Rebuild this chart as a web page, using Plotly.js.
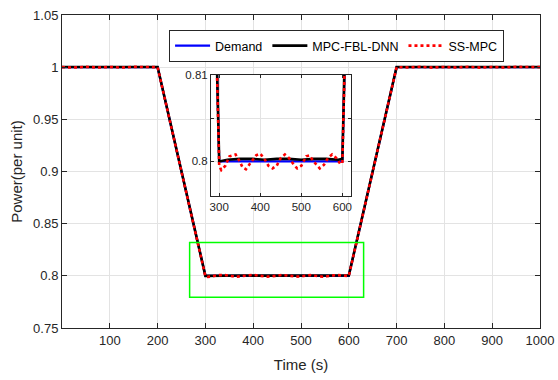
<!DOCTYPE html>
<html>
<head>
<meta charset="utf-8">
<script src="https://cdn.plot.ly/plotly-3.0.1.min.js"></script>
<style>
  html, body { margin: 0; padding: 0; background: #fff; }
  #chart { width: 558px; height: 380px; }
</style>
</head>
<body>
<div id="chart"></div>
<script>
// Power demand and tracking responses of the two controllers
const demandTime  = [0, 200, 300, 600, 700, 1000];
const demandPower = [1, 1, 0.8, 0.8, 1, 1];

const fblTime  = [0, 200, 300, 320, 350, 380, 410, 440, 470, 500, 530, 560, 590, 600, 700, 1000];
const fblPower = [1.0002, 1.0002, 0.8, 0.8002, 0.8003, 0.8003, 0.8002, 0.8003, 0.8003, 0.8002, 0.8003, 0.8003, 0.8002, 0.8003, 1.0002, 1.0002];

const ssTime  = [0, 25, 50, 75, 100, 125, 150, 175, 200,
                 300, 305, 315, 325, 340, 350, 357, 365, 375, 390, 400, 410, 420, 430, 440,
                 450, 460, 470, 482, 490, 500, 512, 520, 530, 545, 555, 565, 575, 585, 595, 600,
                 700, 725, 750, 775, 800, 825, 850, 875, 900, 925, 950, 975, 1000];
const ssPower = [1.0, 0.9996, 1.0003, 0.9997, 1.0002, 0.9996, 1.0003, 0.9998, 1.0,
                 0.7995, 0.7990, 0.7995, 0.8006, 0.8008, 0.8000, 0.7993, 0.7991, 0.7997, 0.8007, 0.8009,
                 0.8003, 0.7995, 0.7992, 0.7995, 0.8004, 0.8008, 0.8004, 0.7996, 0.7992, 0.7995,
                 0.8006, 0.8007, 0.8000, 0.7992, 0.7996, 0.8004, 0.8008, 0.8004, 0.7997, 0.7998,
                 1.0, 0.9997, 1.0003, 0.9996, 1.0002, 0.9997, 1.0003, 0.9996, 1.0002, 0.9997, 1.0003, 0.9998, 1.0];

const xTicks = [100, 200, 300, 400, 500, 600, 700, 800, 900, 1000];
const yTicks = [0.75, 0.8, 0.85, 0.9, 0.95, 1, 1.05];
const insetXTicks = [300, 400, 500, 600];
const insetYTicks = [0.8, 0.805, 0.81];
const insetYLabels = ['0.8', '', '0.81'];

// zoom window drawn on the main axes
const zoomBox = {x0: 267, x1: 631, y0: 0.7795, y1: 0.832};

const FONT = 'Liberation Sans, Arial, Helvetica, sans-serif';
const AX = '#262626';
const GRID = '#e3e3e3';

function series(xa, ya, showlegend) {
  return [
    {x: demandTime, y: demandPower, name: 'Demand', type: 'scatter', mode: 'lines',
     line: {color: '#0000ff', width: 2.2}, xaxis: xa, yaxis: ya, showlegend: showlegend},
    {x: fblTime, y: fblPower, name: 'MPC-FBL-DNN', type: 'scatter', mode: 'lines',
     line: {color: '#000000', width: 2.6}, xaxis: xa, yaxis: ya, showlegend: showlegend},
    {x: ssTime, y: ssPower, name: 'SS-MPC', type: 'scatter', mode: 'lines',
     line: {color: '#ff0000', width: 2.6, dash: 'dot'}, xaxis: xa, yaxis: ya, showlegend: showlegend}
  ];
}

const traces = series('x', 'y', true).concat(series('x2', 'y2', false));

const axisCommon = {
  showline: true, mirror: 'ticks', linecolor: AX, linewidth: 1,
  ticks: 'inside', ticklen: 5, tickcolor: AX, tickwidth: 1,
  showgrid: true, gridcolor: GRID, gridwidth: 1, zeroline: false,
  tickfont: {family: FONT, size: 13, color: AX}
};

const layout = {
  width: 558, height: 380,
  margin: {l: 62, r: 18, t: 15, b: 52},
  paper_bgcolor: '#ffffff', plot_bgcolor: '#ffffff',
  font: {family: FONT, color: AX},
  xaxis: Object.assign({}, axisCommon, {
    range: [0, 1000], tickmode: 'array', tickvals: xTicks,
    title: {text: 'Time (s)', font: {family: FONT, size: 15, color: AX}, standoff: 12},
    domain: [0, 1], anchor: 'y', automargin: false
  }),
  yaxis: Object.assign({}, axisCommon, {
    range: [0.75, 1.05], tickmode: 'array', tickvals: yTicks,
    title: {text: 'Power(per unit)', font: {family: FONT, size: 15, color: AX}, standoff: 6},
    domain: [0, 1], anchor: 'x', automargin: false
  }),
  xaxis2: Object.assign({}, axisCommon, {
    range: [280, 621], tickmode: 'array', tickvals: insetXTicks,
    domain: [0.3117, 0.6046], anchor: 'y2', ticklen: 3,
    tickfont: {family: FONT, size: 11.5, color: AX}
  }),
  yaxis2: Object.assign({}, axisCommon, {
    range: [0.796, 0.81], tickmode: 'array', tickvals: insetYTicks, ticktext: insetYLabels,
    domain: [0.4217, 0.8083], anchor: 'x2', ticklen: 3,
    tickfont: {family: FONT, size: 11.5, color: AX}
  }),
  legend: {
    orientation: 'h', x: 0.224, y: 0.952, xanchor: 'left', yanchor: 'top',
    bgcolor: '#ffffff', bordercolor: AX, borderwidth: 1,
    font: {family: FONT, size: 12.5, color: '#000'},
    itemwidth: 35, tracegroupgap: 0
  },
  shapes: [
    // white backing for the inset axes
    {type: 'rect', xref: 'x2', yref: 'y2', x0: 280, x1: 621, y0: 0.796, y1: 0.81,
     fillcolor: '#ffffff', line: {width: 0}, layer: 'below'},
    {type: 'rect', xref: 'x', yref: 'y', x0: zoomBox.x0, x1: zoomBox.x1, y0: zoomBox.y0, y1: zoomBox.y1,
     line: {color: '#00ff00', width: 1.5}, fillcolor: 'rgba(0,0,0,0)', layer: 'above'}
  ],
  showlegend: true
};

Plotly.newPlot('chart', traces, layout, {displayModeBar: false, staticPlot: true});
</script>
</body>
</html>
